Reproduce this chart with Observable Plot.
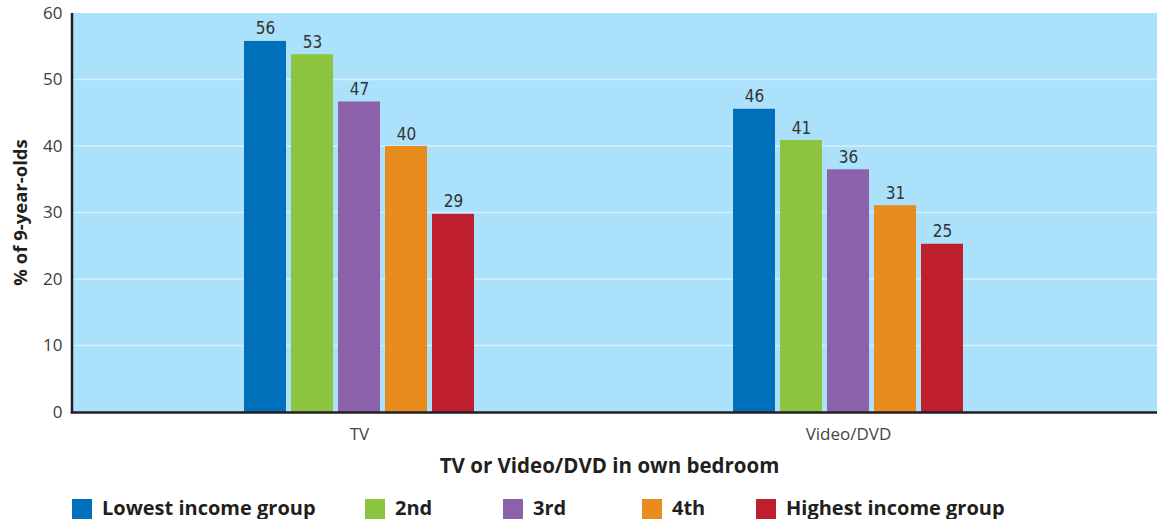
<!DOCTYPE html>
<html>
<head>
<meta charset="utf-8">
<script src="https://cdn.jsdelivr.net/npm/d3@7"></script>
<script src="https://cdn.jsdelivr.net/npm/@observablehq/plot@0.6"></script>
<style>
  body { margin: 0; background: #ffffff; font-family: "Open Sans", sans-serif; }
  #chart svg { display: block; }
  [aria-label^="y-axis"] text { font-size: 17px; fill: #3c3c3c; }
  #legend { position: relative; width: 1157px; height: 34px; }
  .item { position: absolute; top: 14px; height: 20px; display: flex; align-items: center; }
  .swatch { width: 20px; height: 20px; margin-right: 10px; flex: none; }
  .lbl { font-family: "Open Sans", sans-serif; font-weight: 700; font-size: 20px; line-height: 20px; color: #231f20; white-space: nowrap; position: relative; top: -1px; }
</style>
</head>
<body>
<div id="chart"></div>
<div id="legend"></div>
<script>
// ---- data ----
const groups = ["TV", "Video/DVD"];
const incomes = ["Lowest income group", "2nd", "3rd", "4th", "Highest income group"];
const tvHeights = [55.8, 53.8, 46.7, 40.0, 29.8];
const videoHeights = [45.6, 40.9, 36.5, 31.1, 25.3];
const tvLabels = ["56", "53", "47", "40", "29"];
const videoLabels = ["46", "41", "36", "31", "25"];
const colors = ["#0070ba", "#8cc43f", "#8b62a9", "#e88c1f", "#be1e2d"];
const yTicks = [0, 10, 20, 30, 40, 50, 60];
const yTitle = "% of 9-year-olds";
const xTitle = "TV or Video/DVD in own bedroom";

const data = [];
groups.forEach((g, gi) => incomes.forEach((inc, i) => data.push({
  group: g,
  income: inc,
  value: gi === 0 ? tvHeights[i] : videoHeights[i],
  label: gi === 0 ? tvLabels[i] : videoLabels[i]
})));

// ---- layout ----
const W = 1157, H = 485, ML = 72, MR = 0, MT = 13, MB = 73;
const middleIncome = incomes[Math.floor(incomes.length / 2)];

const plot = Plot.plot({
  width: W, height: H,
  marginLeft: ML, marginRight: MR, marginTop: MT, marginBottom: MB,
  style: { fontFamily: "'Open Sans', sans-serif", fontSize: "16px", color: "#3c3c3c", background: "transparent", overflow: "visible" },
  facet: { data, x: "group" },
  fx: { domain: groups, paddingInner: 0, paddingOuter: 0.1094, align: 0, axis: null, label: null },
  x: { domain: incomes, paddingInner: 0.1064, paddingOuter: 2.755, align: 0.664, axis: null },
  y: { domain: [0, 60], ticks: yTicks, tickSize: 0, tickPadding: 10, label: null },
  color: { domain: incomes, range: colors },
  marks: [
    Plot.barY(data, { x: "income", y: "value", fill: "income" }),
    Plot.text(data, {
      x: "income", y: "value", text: "label", dy: -7, lineAnchor: "bottom",
      fontSize: 17, fontFamily: "'Liberation Sans Narrow', 'DejaVu Sans Condensed', sans-serif", fill: "#333333"
    }),
    // category labels centred under each group of bars
    Plot.text(data, {
      filter: d => d.income === middleIncome,
      x: "income", text: "group", frameAnchor: "bottom", lineAnchor: "top", dy: 15,
      fontSize: 17, fontFamily: "'Open Sans', sans-serif", fill: "#444444"
    })
  ]
});

// background, grid and axis lines spanning the whole plot area
const ys = plot.scale("y");
const yScale = d3.scaleLinear(ys.domain, ys.range);
const svg = d3.select(plot);
const x0 = ML, x1 = W - MR;
const bg = svg.insert("g", "g");
bg.append("rect")
  .attr("x", x0).attr("y", yScale(60))
  .attr("width", x1 - x0).attr("height", yScale(0) - yScale(60))
  .attr("fill", "#abe1fa");
bg.selectAll("line").data(yTicks.filter(t => t > 0 && t < 60)).join("line")
  .attr("x1", x0).attr("x2", x1)
  .attr("y1", d => yScale(d)).attr("y2", d => yScale(d))
  .attr("stroke", "#d6effb").attr("stroke-width", 1.6);

const axes = svg.append("g").attr("stroke", "#231f20").attr("stroke-width", 2.5);
axes.append("line").attr("x1", x0).attr("x2", x0).attr("y1", yScale(60)).attr("y2", yScale(0) + 1.25);
axes.append("line").attr("x1", x0 - 1.25).attr("x2", x1).attr("y1", yScale(0) + 0.5).attr("y2", yScale(0) + 0.5);

svg.append("text")
  .attr("transform", `translate(21,${(yScale(0) + yScale(60)) / 2}) rotate(-90)`)
  .attr("text-anchor", "middle").attr("dy", "0.35em")
  .attr("font-family", "'Open Sans', sans-serif").attr("font-weight", 700).attr("font-size", 18.5)
  .attr("fill", "#231f20").text(yTitle);

svg.append("text")
  .attr("x", (x0 + x1) / 2 - 5).attr("y", 473)
  .attr("text-anchor", "middle")
  .attr("font-family", "'Open Sans', sans-serif").attr("font-weight", 700).attr("font-size", 20.5)
  .attr("fill", "#231f20").text(xTitle);

document.getElementById("chart").appendChild(plot);

// ---- legend ----
const legendLefts = [72, 365, 503, 642, 756];
const legend = d3.select("#legend");
incomes.forEach((inc, i) => {
  const it = legend.append("div").attr("class", "item").style("left", legendLefts[i] + "px");
  it.append("div").attr("class", "swatch").style("background", colors[i]);
  it.append("span").attr("class", "lbl").text(inc);
});
</script>
</body>
</html>
